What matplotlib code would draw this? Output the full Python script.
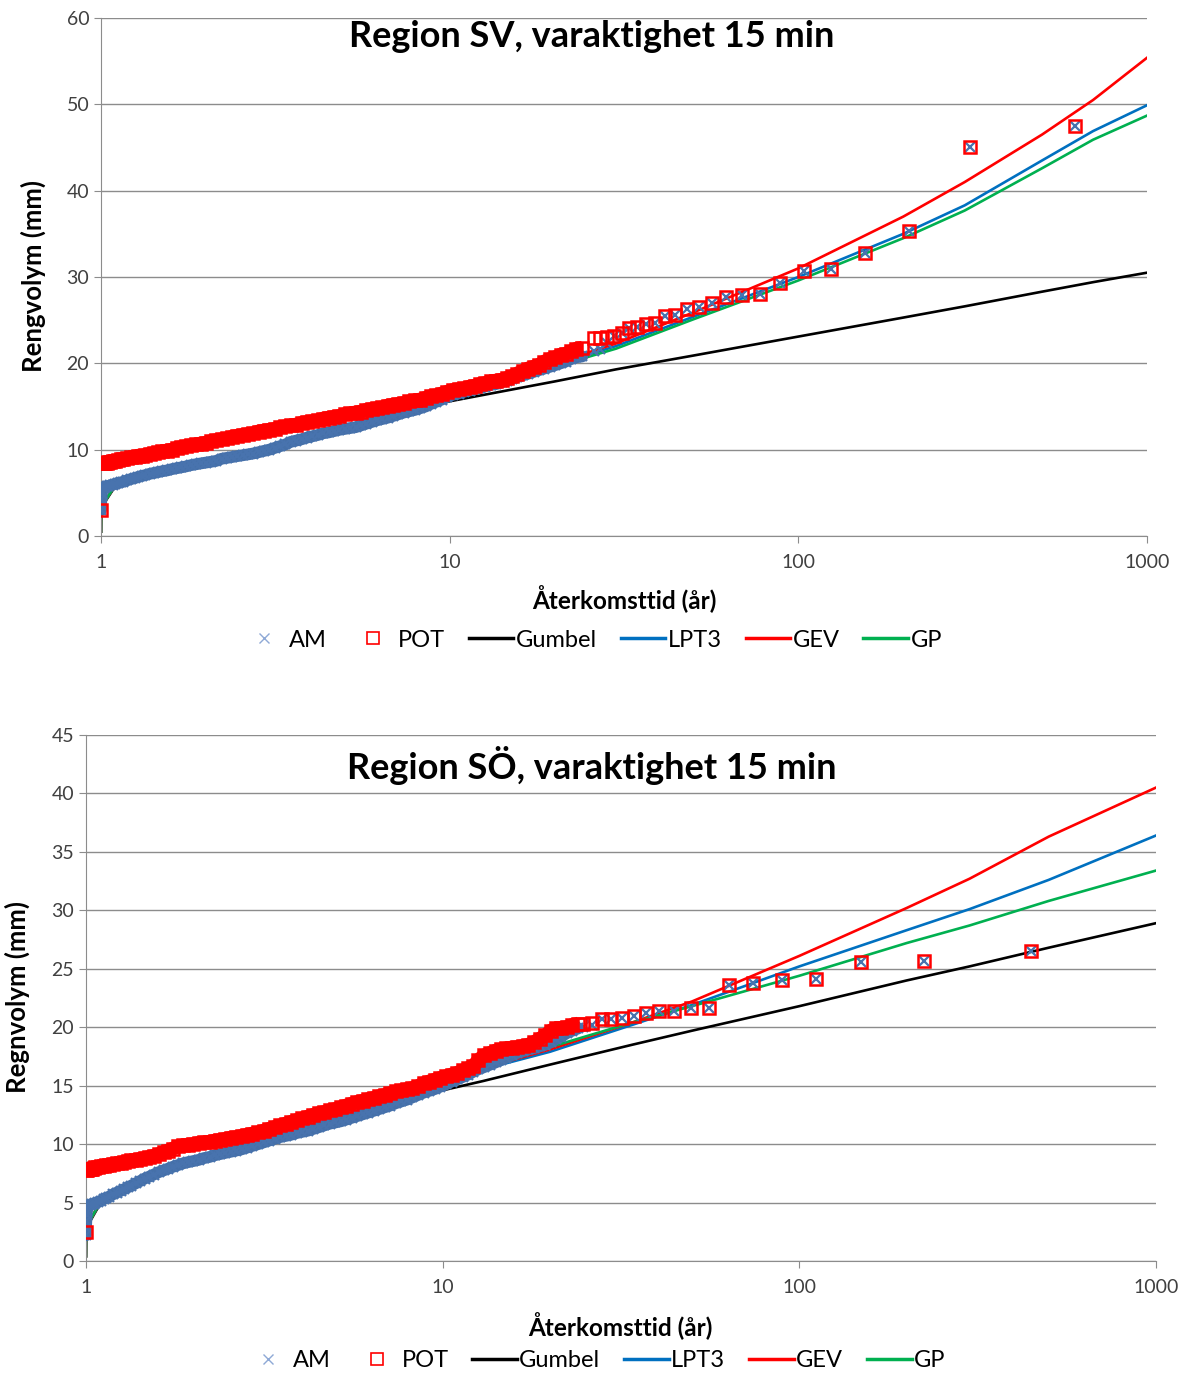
import matplotlib
matplotlib.use("Agg")
import matplotlib.pyplot as plt
from matplotlib.lines import Line2D

plt.rcParams['font.family'] = ['Lato', 'DejaVu Sans']

# return periods of the dense part of the point clouds (both regions)
dense_T = [1.00, 1.01, 1.02, 1.03, 1.04, 1.05, 1.06, 1.08, 1.10, 1.12, 1.14, 1.16, 1.19, 1.22, 1.25,
           1.28, 1.31, 1.34, 1.38, 1.42, 1.46, 1.50, 1.55, 1.60, 1.65, 1.70, 1.75, 1.81, 1.87, 1.93,
           2.00, 2.07, 2.14, 2.22, 2.30, 2.38, 2.46, 2.55, 2.64, 2.73, 2.83, 2.93, 3.04, 3.15, 3.26,
           3.38, 3.50, 3.63, 3.76, 3.90, 4.04, 4.19, 4.34, 4.50, 4.66, 4.83, 5.00, 5.18, 5.37, 5.56,
           5.76, 5.97, 6.19, 6.41, 6.64, 6.88, 7.13, 7.39, 7.66, 7.94, 8.23, 8.53, 8.84, 9.16, 9.49,
           9.83, 10.2, 10.6, 11.0, 11.4, 11.8, 12.2, 12.6, 13.1, 13.6, 14.1, 14.6, 15.1, 15.6, 16.2,
           16.8, 17.4, 18.0, 18.7, 19.4, 20.1, 20.8, 21.5, 22.3, 23.1, 24.0]

# ---------------- Region SV (top) ----------------
sv_am_low_T = [1.0, 1.0, 1.003, 1.006]
sv_am_low_v = [3.0, 3.6, 4.3, 4.9]
sv_am_dense = [5.3, 5.5, 5.6, 5.7, 5.75, 5.8, 5.85, 5.95, 6.05, 6.15, 6.2, 6.3, 6.45, 6.6, 6.7,
               6.85, 6.95, 7.05, 7.2, 7.3, 7.4, 7.5, 7.6, 7.75, 7.85, 7.95, 8.05, 8.2, 8.3, 8.4,
               8.5, 8.6, 8.7, 8.95, 9.05, 9.15, 9.25, 9.35, 9.45, 9.55, 9.7, 9.85, 10.0, 10.2, 10.4,
               10.6, 10.9, 11.05, 11.2, 11.4, 11.55, 11.7, 11.9, 12.0, 12.15, 12.3, 12.4, 12.5, 12.6, 12.8,
               13.0, 13.2, 13.4, 13.55, 13.7, 13.9, 14.1, 14.3, 14.45, 14.6, 14.8, 15.0, 15.3, 15.55, 15.8,
               16.1, 16.35, 16.5, 16.7, 16.85, 17.0, 17.15, 17.3, 17.5, 17.6, 17.8, 18.0, 18.2, 18.4, 18.6,
               18.8, 19.0, 19.2, 19.4, 19.6, 19.8, 20.0, 20.2, 20.5, 20.7, 20.8]
sv_am_tail_T = [25.9, 27.0, 28.2, 29.6, 31.1, 32.7, 34.5, 36.5, 38.8, 41.4, 44.4, 47.8, 51.8, 56.5,
                62.1, 69.0, 77.6, 88.7, 103.5, 124.2, 155.3, 207, 310.5, 621]
sv_am_tail_v = [21.4, 21.7, 22.3, 23.2, 23.5, 24.1, 24.2, 24.6, 24.7, 25.5, 25.6, 26.3, 26.5, 27.0,
                27.7, 27.9, 28.0, 29.3, 30.7, 30.9, 32.8, 35.3, 45.1, 47.5]

sv_pot_low_T = [1.0]
sv_pot_low_v = [3.0]
sv_pot_dense = [8.4, 8.4, 8.5, 8.5, 8.5, 8.6, 8.6, 8.7, 8.7, 8.8, 8.9, 8.9, 9.0, 9.1, 9.2,
                9.3, 9.3, 9.4, 9.5, 9.6, 9.7, 9.8, 9.9, 10.0, 10.2, 10.3, 10.4, 10.5, 10.6, 10.7,
                10.8, 11.0, 11.1, 11.2, 11.3, 11.5, 11.6, 11.7, 11.8, 11.9, 12.1, 12.2, 12.3, 12.4, 12.6,
                12.7, 12.8, 12.9, 13.1, 13.2, 13.3, 13.4, 13.6, 13.7, 13.8, 13.9, 14.1, 14.2, 14.3, 14.4,
                14.6, 14.7, 14.8, 14.9, 15.1, 15.2, 15.3, 15.4, 15.6, 15.7, 15.8, 16.0, 16.2, 16.3, 16.5,
                16.7, 16.9, 17.0, 17.1, 17.3, 17.4, 17.6, 17.7, 17.9, 18.0, 18.1, 18.3, 18.5, 18.8, 19.1,
                19.4, 19.6, 19.8, 20.2, 20.5, 20.7, 21.0, 21.1, 21.4, 21.7, 21.8]
sv_pot_tail_T = [25.9, 27.0, 28.2, 29.6, 31.1, 32.7, 34.5, 36.5, 38.8, 41.4, 44.4, 47.8, 51.8, 56.5,
                 62.1, 69.0, 77.6, 88.7, 103.5, 124.2, 155.3, 207, 310.5, 621]
sv_pot_tail_v = [22.9, 22.9, 23.0, 23.2, 23.5, 24.1, 24.2, 24.6, 24.7, 25.5, 25.6, 26.3, 26.5, 27.0,
                 27.7, 27.9, 28.0, 29.3, 30.7, 30.9, 32.8, 35.3, 45.1, 47.5]

sv_fit_T = [1.0001, 1.001, 1.01, 1.1, 1.5, 2, 3, 5, 7, 10, 20, 30, 50, 100, 200, 300, 500, 700, 1000]
sv_gumbel = [0.5, 2.2, 3.5, 5.8, 7.6, 8.6, 10.0, 12.4, 14.2, 15.6, 17.9, 19.3, 20.9, 23.1, 25.3, 26.6, 28.3, 29.4, 30.5]
sv_lpt3 = [0.5, 2.2, 3.6, 5.9, 7.6, 8.6, 10.0, 12.5, 14.4, 16.1, 19.8, 22.0, 25.4, 30.0, 35.0, 38.3, 43.5, 46.9, 49.9]
sv_gev = [0.5, 2.2, 3.6, 5.9, 7.6, 8.6, 10.0, 12.5, 14.4, 16.2, 20.0, 22.3, 25.9, 31.0, 37.0, 41.0, 46.5, 50.5, 55.4]
sv_gp = [0.5, 2.2, 3.6, 5.9, 7.6, 8.6, 10.0, 12.5, 14.4, 16.0, 19.6, 21.7, 25.1, 29.6, 34.5, 37.7, 42.6, 45.9, 48.7]

# ---------------- Region SÖ (bottom) ----------------
so_am_low_T = [1.0, 1.0, 1.002, 1.004, 1.007]
so_am_low_v = [2.2, 2.8, 3.4, 3.9, 4.3]
so_am_dense = [4.6, 4.7, 4.75, 4.8, 4.85, 4.9, 4.95, 5.05, 5.15, 5.3, 5.4, 5.5, 5.7, 5.85, 6.0,
               6.15, 6.3, 6.45, 6.65, 6.85, 7.05, 7.2, 7.4, 7.6, 7.75, 7.9, 8.05, 8.2, 8.35, 8.45,
               8.55, 8.65, 8.8, 8.9, 9.05, 9.15, 9.25, 9.35, 9.45, 9.55, 9.7, 9.85, 10.0, 10.15, 10.3,
               10.45, 10.6, 10.7, 10.8, 10.95, 11.05, 11.15, 11.3, 11.45, 11.6, 11.75, 11.85, 11.95, 12.1, 12.25,
               12.4, 12.55, 12.7, 12.85, 13.0, 13.15, 13.3, 13.5, 13.65, 13.8, 14.0, 14.2, 14.4, 14.55, 14.7,
               14.9, 15.1, 15.35, 15.55, 15.75, 15.95, 16.2, 16.4, 16.6, 16.8, 17.0, 17.2, 17.4, 17.6, 17.8,
               17.95, 18.1, 18.2, 18.35, 18.5, 18.7, 19.0, 19.2, 19.5, 19.7, 19.9]
so_am_tail_T = [24.8, 26.2, 27.9, 29.7, 31.9, 34.3, 37.2, 40.5, 44.6, 49.6, 55.8, 63.7, 74.3,
                89.2, 111.5, 148.7, 223, 446]
so_am_tail_v = [20.0, 20.2, 20.7, 20.7, 20.8, 21.0, 21.2, 21.4, 21.4, 21.6, 21.6, 23.6, 23.8,
                24.0, 24.1, 25.6, 25.7, 26.5]

so_pot_low_T = [1.0]
so_pot_low_v = [2.5]
so_pot_dense = [7.8, 7.8, 7.85, 7.9, 7.9, 7.95, 8.0, 8.05, 8.1, 8.15, 8.2, 8.25, 8.3, 8.35, 8.4,
                8.5, 8.55, 8.6, 8.65, 8.75, 8.8, 8.9, 9.0, 9.15, 9.3, 9.45, 9.6, 9.8, 9.9, 9.95,
                10.0, 10.1, 10.15, 10.2, 10.3, 10.35, 10.45, 10.55, 10.6, 10.7, 10.8, 10.9, 11.0, 11.15, 11.3,
                11.45, 11.6, 11.75, 11.9, 12.05, 12.2, 12.35, 12.5, 12.65, 12.75, 12.9, 13.0, 13.15, 13.3, 13.45,
                13.6, 13.7, 13.85, 13.95, 14.1, 14.2, 14.35, 14.5, 14.6, 14.7, 14.8, 14.95, 15.2, 15.35, 15.5,
                15.65, 15.8, 15.95, 16.1, 16.3, 16.5, 16.7, 17.2, 17.6, 17.8, 18.0, 18.1, 18.2, 18.25, 18.3,
                18.4, 18.5, 18.7, 19.0, 19.3, 19.7, 19.9, 19.95, 20.0, 20.2, 20.3]
so_pot_tail_T = [24.8, 26.2, 27.9, 29.7, 31.9, 34.3, 37.2, 40.5, 44.6, 49.6, 55.8, 63.7, 74.3,
                 89.2, 111.5, 148.7, 223, 446]
so_pot_tail_v = [20.3, 20.4, 20.7, 20.7, 20.8, 21.0, 21.2, 21.4, 21.4, 21.6, 21.6, 23.6, 23.8,
                 24.0, 24.1, 25.6, 25.7, 26.5]

so_fit_T = [1.0001, 1.001, 1.01, 1.1, 1.5, 2, 3, 5, 7, 10, 13, 20, 34, 50, 100, 200, 300, 500, 1000]
so_gumbel = [0.4, 1.7, 3.0, 5.0, 7.2, 8.5, 10.0, 12.0, 13.4, 14.6, 15.4, 16.8, 18.5, 19.7, 21.8, 24.0, 25.2, 26.8, 28.9]
so_lpt3 = [0.4, 1.7, 3.1, 5.1, 7.2, 8.6, 10.1, 12.2, 13.7, 15.3, 16.4, 17.9, 20.2, 21.9, 25.2, 28.3, 30.1, 32.6, 36.4]
so_gev = [0.4, 1.7, 3.1, 5.1, 7.2, 8.6, 10.1, 12.2, 13.7, 15.3, 16.5, 18.1, 20.4, 22.2, 26.1, 30.2, 32.7, 36.3, 40.5]
so_gp = [0.4, 1.7, 3.1, 5.1, 7.2, 8.6, 10.1, 12.2, 13.7, 15.4, 16.7, 18.3, 20.4, 21.8, 24.4, 27.2, 28.7, 30.8, 33.4]

AM_COLOR = '#4873AE'
AM_BAND = '#4570A9'
POT_COLOR = '#FF0000'
LINE_COLORS = {'Gumbel': 'black', 'LPT3': '#0070C0', 'GEV': '#FF0000', 'GP': '#00B050'}
GRID = '#8C8C8C'
TXT = '#404040'


def draw_panel(ax, am, pot, fit_T, fits, ymax, ystep, ylabel):
    (am_low_T, am_low_v, am_dense, am_tail_T, am_tail_v) = am
    (pot_low_T, pot_low_v, pot_dense, pot_tail_T, pot_tail_v) = pot
    for name, vals in fits.items():
        ax.plot(fit_T, vals, color=LINE_COLORS[name], lw=1.9, zorder=2)

    # where hundreds of markers overlap they merge into a solid band
    ax.plot(am_low_T + dense_T, am_low_v + am_dense, color=AM_BAND, lw=8.5, zorder=3,
            solid_capstyle='round', solid_joinstyle='round')
    ax.plot(dense_T, pot_dense, color=POT_COLOR, lw=10, zorder=4, solid_capstyle='butt')

    ax.plot(am_low_T + dense_T + am_tail_T, am_low_v + am_dense + am_tail_v, ls='none', marker='x',
            ms=7.5, mew=1.6, color=AM_COLOR, zorder=3)
    ax.plot(pot_low_T + dense_T + pot_tail_T, pot_low_v + pot_dense + pot_tail_v, ls='none',
            marker='s', ms=9, mew=1.8, mfc='none', mec=POT_COLOR, zorder=4)

    ax.set_xscale('log')
    ax.set_xlim(1, 1000)
    ax.set_ylim(0, ymax)
    ax.set_xticks([1, 10, 100, 1000])
    ax.set_xticklabels(['1', '10', '100', '1000'])
    ax.minorticks_off()
    ax.set_yticks(range(0, ymax + 1, ystep))
    ax.yaxis.grid(True, color=GRID, lw=1.0)
    ax.set_axisbelow(True)
    for s in ['top', 'right']:
        ax.spines[s].set_visible(False)
    for s in ['left', 'bottom']:
        ax.spines[s].set_color(GRID)
    ax.tick_params(axis='both', colors=GRID, labelcolor=TXT, labelsize=14, length=5)
    ax.tick_params(axis='x', pad=8)
    ax.set_xlabel('Återkomsttid (år)', fontsize=17.5, fontweight='bold', color='black')
    ax.set_ylabel(ylabel, fontsize=18.5, fontweight='bold', color='black')


fig = plt.figure(figsize=(11.84, 13.75), dpi=100)

ax1 = fig.add_axes([0.0853, 0.6102, 0.8835, 0.3767])
draw_panel(ax1,
           (sv_am_low_T, sv_am_low_v, sv_am_dense, sv_am_tail_T, sv_am_tail_v),
           (sv_pot_low_T, sv_pot_low_v, sv_pot_dense, sv_pot_tail_T, sv_pot_tail_v),
           sv_fit_T, {'Gumbel': sv_gumbel, 'LPT3': sv_lpt3, 'GEV': sv_gev, 'GP': sv_gp},
           60, 10, 'Rengvolym (mm)')
ax1.xaxis.set_label_coords(0.5, -0.095)
ax1.yaxis.set_label_coords(-0.053, 0.501)
fig.text(0.5, 0.9738, 'Region SV, varaktighet 15 min', ha='center', va='center',
         fontsize=26, fontweight='bold')

ax2 = fig.add_axes([0.0726, 0.0829, 0.9038, 0.3826])
draw_panel(ax2,
           (so_am_low_T, so_am_low_v, so_am_dense, so_am_tail_T, so_am_tail_v),
           (so_pot_low_T, so_pot_low_v, so_pot_dense, so_pot_tail_T, so_pot_tail_v),
           so_fit_T, {'Gumbel': so_gumbel, 'LPT3': so_lpt3, 'GEV': so_gev, 'GP': so_gp},
           45, 5, 'Regnvolym (mm)')
ax2.xaxis.set_label_coords(0.499, -0.097)
ax2.yaxis.set_label_coords(-0.0525, 0.502)
fig.text(0.5, 0.4436, 'Region SÖ, varaktighet 15 min', ha='center', va='center',
         fontsize=26, fontweight='bold')

handles = [
    Line2D([], [], ls='none', marker='x', ms=7, mew=1.0, color='#8EA9D6'),
    Line2D([], [], ls='none', marker='s', ms=9, mew=1.2, mfc='none', mec=POT_COLOR),
    Line2D([], [], color='black', lw=2.5),
    Line2D([], [], color=LINE_COLORS['LPT3'], lw=2.5),
    Line2D([], [], color=LINE_COLORS['GEV'], lw=2.5),
    Line2D([], [], color=LINE_COLORS['GP'], lw=2.5),
]
labels = ['AM', 'POT', 'Gumbel', 'LPT3', 'GEV', 'GP']
for xc, yc in [(0.5, 0.5345), (0.503, 0.0102)]:
    fig.legend(handles, labels, loc='center', bbox_to_anchor=(xc, yc), ncol=6, frameon=False,
               fontsize=17, handlelength=1.9, handletextpad=0.1, columnspacing=1.0)

plt.savefig('out.png', dpi=100)
